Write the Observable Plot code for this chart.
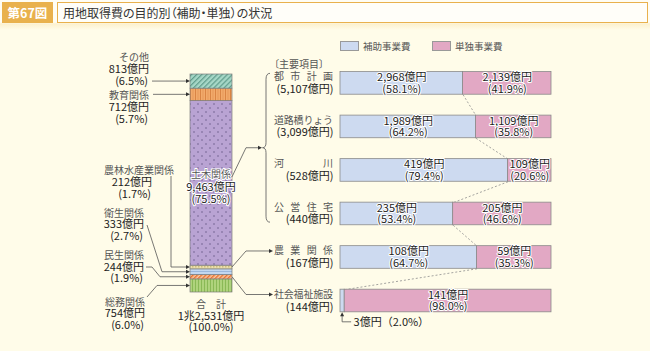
<!DOCTYPE html>
<html lang="ja"><head><meta charset="utf-8">
<script src="https://cdn.jsdelivr.net/npm/d3@7"></script>
<script src="https://cdn.jsdelivr.net/npm/@observablehq/plot@0.6"></script>
<style>
html,body{margin:0;padding:0;background:#fffce9;}
body{font-family:"Noto Sans CJK JP","Noto Sans",sans-serif;}
#wrap{position:relative;width:650px;height:351px;overflow:hidden;background:#fffce9;}
#header{position:absolute;left:0;top:0;width:650px;height:30px;background:linear-gradient(#fffdf4 0px,#fffdf4 22px,#fcf1cf 24px,#fffce9 30px);}
#fig{position:absolute;left:2px;top:2px;width:51px;height:21px;background:#e9b14d;color:#fff;font-size:12.5px;font-weight:bold;line-height:21px;text-align:center;}
#title{position:absolute;left:57px;top:2px;width:584px;height:19px;border:1px solid #e9b14d;background:#fffef9;color:#333;font-size:12px;line-height:19px;padding-left:5px;font-feature-settings:"palt";}
#chart{position:absolute;left:0;top:26px;width:650px;height:325px;}
#chart > svg{position:absolute;left:0;top:0;}
.leg{position:absolute;top:41px;font-size:9.5px;color:#555;line-height:10px;}
.box{position:absolute;top:41px;width:17px;height:8px;border:1px solid #999;}
#note{position:absolute;left:274px;top:57px;font-size:10px;color:#555;line-height:14px;font-feature-settings:"palt";}
</style>
</head>
<body>
<svg width="0" height="0" style="position:absolute">
  <defs>
    <pattern id="pTeal" patternUnits="userSpaceOnUse" width="3.6" height="3.6" patternTransform="rotate(45)">
      <rect width="3.6" height="3.6" fill="#a6d7c7"/><line x1="0.6" y1="0" x2="0.6" y2="3.6" stroke="#5f9c8b" stroke-width="1.2"/>
    </pattern>
    <pattern id="pOrange" patternUnits="userSpaceOnUse" width="5" height="5">
      <rect width="5" height="5" fill="#f2aa6b"/><rect x="0" width="1" height="5" fill="#d98444"/><rect x="2.6" width="0.8" height="5" fill="#e39455"/>
    </pattern>
    <pattern id="pPurple" patternUnits="userSpaceOnUse" width="8" height="8">
      <rect width="8" height="8" fill="#b9a3d3"/><circle cx="2" cy="2" r="0.8" fill="#6e5e8c"/><circle cx="6" cy="6" r="0.8" fill="#6e5e8c"/>
    </pattern>
    <pattern id="pBeige" patternUnits="userSpaceOnUse" width="3" height="3">
      <rect width="3" height="3" fill="#ece1ad"/><rect width="1.5" height="1.5" fill="#cdbb7d"/>
    </pattern>
    <pattern id="pBlue" patternUnits="userSpaceOnUse" width="3" height="3">
      <rect width="3" height="3" fill="#c2d7f0"/><rect y="2" width="3" height="0.8" fill="#92afd6"/>
    </pattern>
    <pattern id="pOrangeHatch" patternUnits="userSpaceOnUse" width="3" height="3" patternTransform="rotate(45)">
      <rect width="3" height="3" fill="#f8c8a0"/><line x1="0.7" y1="0" x2="0.7" y2="3" stroke="#e86f30" stroke-width="1.4"/>
    </pattern>
    <pattern id="pGreen" patternUnits="userSpaceOnUse" width="3" height="3">
      <rect width="3" height="3" fill="#afd37c"/><rect width="0.9" height="3" fill="#86b652"/>
    </pattern>
  </defs>
</svg>
<div id="wrap">
  <div id="header"><div id="fig">第67図</div><div id="title">用地取得費の目的別（補助・単独）の状況</div></div>
  <div id="chart"></div>
  <div class="box" style="left:340px;background:#cddaf0"></div><div class="leg" id="leg0" style="left:363px"></div>
  <div class="box" style="left:432px;background:#e2a8c4"></div><div class="leg" id="leg1" style="left:455px"></div>
  <div id="note">〔主要項目〕</div>
</div>
<script>
// ---------- data ----------
const leftCats = ["総務関係","民生関係","衛生関係","農林水産業関係","土木関係","教育関係","その他"];
const leftValues = [754,244,333,212,9463,712,813];
const leftPct = [6.0,1.9,2.7,1.7,75.5,5.7,6.5];
const totalValue = 12531;
const totalLabels = ["合　計","1兆2,531億円","(100.0%)"];

const rightCats = ["都市計画","道路橋りょう","河川","公営住宅","農業関係","社会福祉施設"];
const rightTotals = [5107,3099,528,440,167,144];
const hojoValues = [2968,1989,419,235,108,3];
const hojoPct = [58.1,64.2,79.4,53.4,64.7,2.0];
const tandokuValues = [2139,1109,109,205,59,141];
const tandokuPct = [41.9,35.8,20.6,46.6,35.3,98.0];
const seriesNames = ["補助事業費","単独事業費"];

// ---------- layout / style ----------
const W = 650, H = 325;
const fmt = d3.format(",");
const font = "Noto Sans CJK JP";
const fillsA = ["url(#pGreen)","url(#pOrangeHatch)","url(#pBlue)","url(#pBeige)","url(#pPurple)","url(#pOrange)","url(#pTeal)"];
const A = {xr:[190,232], yr:[266,48]};
const B = {xr:[340,551], yr:[56.9,274.5], half:0.26};
const blue = "#cddaf0", pink = "#e2a8c4", barStroke = "#8a8a8a", lineCol = "#555";

document.getElementById("leg0").textContent = seriesNames[0];
document.getElementById("leg1").textContent = seriesNames[1];

const cum = d3.cumsum(leftValues);
const stackRows = leftCats.map((c,i)=>({cat:c, value:leftValues[i], pct:leftPct[i], lo:cum[i]-leftValues[i], hi:cum[i], mid:cum[i]-leftValues[i]/2}));
const byCat = Object.fromEntries(stackRows.map(r=>[r.cat,r]));
const yA = d3.scaleLinear().domain([0,totalValue]).range(A.yr);
const xB = d3.scaleLinear().domain([0,100]).range(B.xr);
const yB = d3.scaleLinear().domain([0,rightCats.length-1]).range(B.yr);

// label layout for the stacked bar (pixel positions of text lines and leader bends)
const leftAnno = [
  {cat:"その他", x:149, ys:[31,43,55], lead:[[152,null]]},
  {cat:"教育関係", x:149, ys:[69,81,93], lead:[[153,null]]},
  {cat:"農林水産業関係", x:174, xn:152, ys:[144,156,168], lead:[[171,150],[171,null]]},
  {cat:"衛生関係", x:144, ys:[187,198,210], lead:[[147,199],[162,null]]},
  {cat:"民生関係", x:144, ys:[229,241,252], lead:[[146,241],[152,241],[160,null]]},
  {cat:"総務関係", x:145, ys:[276,287,299], lead:[[147,271],[157,null]]}
];

function txt(g, x, y, s, o={}) {
  const t = g.append("text").attr("x",x).attr("y",y).attr("dy","0.35em")
    .attr("text-anchor",o.anchor||"end").attr("font-size",o.size||11)
    .attr("fill",o.fill||"#222").attr("paint-order","stroke").text(s);
  if (o.halo) t.attr("stroke","#fff").attr("stroke-width",2);
  return t;
}
function arrowHead(g, x, y, dir) {
  const p = dir==="right" ? `M${x},${y}L${x-4},${y-2}L${x-4},${y+2}Z` : `M${x},${y}L${x-2},${y+4}L${x+2},${y+4}Z`;
  g.append("path").attr("d",p).attr("fill","#333");
}

function annotA() {
  const g = d3.create("svg:g").attr("font-family",font);
  const bx = A.xr[0];
  for (const a of leftAnno) {
    const r = byCat[a.cat];
    const t = yA(r.mid);
    const pts = a.lead.map(([x,y])=>[x, y==null?t:y]).concat([[bx-3,t]]);
    g.append("path").attr("d", d3.line()(pts)).attr("fill","none").attr("stroke",lineCol).attr("stroke-width",0.8);
    arrowHead(g, bx, t, "right");
    txt(g, a.x, a.ys[0], r.cat, {size:10, fill:"#555"});
    txt(g, a.xn||a.x, a.ys[1], `${fmt(r.value)}億円`);
    txt(g, (a.xn||a.x)-1, a.ys[2], `(${r.pct.toFixed(1)}%)`);
  }
  // 土木関係 label inside the bar
  const d = byCat["土木関係"], cx = (A.xr[0]+A.xr[1])/2, c = yA(d.mid);
  txt(g, cx, c-8, d.cat, {anchor:"middle", size:10, fill:"#555", halo:true});
  txt(g, cx, c+4, `${fmt(d.value)}億円`, {anchor:"middle", halo:true});
  txt(g, cx, c+16, `(${d.pct.toFixed(1)}%)`, {anchor:"middle", halo:true});
  // total
  const ty = yA(0);
  txt(g, cx, ty+12, totalLabels[0], {anchor:"middle", size:10, fill:"#555"});
  txt(g, cx, ty+24, totalLabels[1], {anchor:"middle"});
  txt(g, cx, ty+35.5, totalLabels[2], {anchor:"middle"});
  return g.node();
}

const plotA = Plot.plot({
  width:W, height:H, margin:0,
  style:{background:"transparent", fontFamily:font, overflow:"visible"},
  x:{type:"band", domain:["合計"], range:A.xr, padding:0, axis:null},
  y:{type:"linear", domain:[0,totalValue], range:A.yr, axis:null},
  marks:[
    ...stackRows.map((r,i)=>Plot.barY([r], {x:()=>"合計", y1:"lo", y2:"hi", fill:fillsA[i], stroke:"#7c7c7c", strokeWidth:0.7})),
    annotA
  ]
});

// ---------- right panel ----------
const rows = rightCats.map((c,i)=>({i, cat:c, total:rightTotals[i], h:hojoValues[i], hp:hojoPct[i], t:tandokuValues[i], tp:tandokuPct[i]}));
const hh = B.half;

function annotB() {
  const g = d3.create("svg:g").attr("font-family",font);
  // brace for 土木関係 items (rows 0-3)
  const top = yB(-0.22), bot = yB(3.2), mid = (top+bot)/2, sx = 266;
  g.append("path").attr("d",
    `M270,${top}Q${sx},${top} ${sx},${top+6}L${sx},${mid-5}Q${sx},${mid} ${sx-3.5},${mid}Q${sx},${mid} ${sx},${mid+5}L${sx},${bot-6}Q${sx},${bot} 270,${bot}`)
    .attr("fill","none").attr("stroke","#666").attr("stroke-width",0.9);
  const bx = A.xr[1];
  const links = [
    {from:"土木関係", dy:-6, to:mid, end:262},
    {from:"農林水産業関係", dy:0, to:yB(4)-6, end:273},
    {from:"民生関係", dy:0, to:yB(5)-6, end:273}
  ];
  for (const l of links) {
    const y0 = yA(byCat[l.from].mid) + l.dy;
    g.append("path").attr("d", d3.line()([[bx,y0],[bx+14,l.to],[l.end-3,l.to]]))
      .attr("fill","none").attr("stroke",lineCol).attr("stroke-width",0.8);
    arrowHead(g, l.end, l.to, "right");
  }
  // category names, justified to a common width
  for (const r of rows) {
    g.append("text").attr("x",xB(0)-7).attr("y",yB(r.i)-6).attr("dy","0.35em")
      .attr("text-anchor","end").attr("font-size",10).attr("fill","#555")
      .attr("textLength",59).attr("lengthAdjust","spacing").text(r.cat);
  }
  // small-segment callout for 社会福祉施設 補助
  const r = rows[5], x = xB(r.hp/2), y = yB(r.i+hh);
  g.append("path").attr("d", d3.line()([[x,y+3],[x,y+10],[x+9,y+10]])).attr("fill","none").attr("stroke",lineCol).attr("stroke-width",0.8);
  arrowHead(g, x, y+0.5, "up");
  return g.node();
}

const plotB = Plot.plot({
  width:W, height:H, margin:0,
  style:{background:"transparent", fontFamily:font, overflow:"visible", color:"#222"},
  x:{type:"linear", domain:[0,100], range:B.xr, axis:null},
  y:{type:"linear", domain:[0,rightCats.length-1], range:B.yr, axis:null},
  marks:[
    Plot.link(d3.pairs(rows), {x1:([a])=>a.hp, y1:([a])=>a.i+hh, x2:([,b])=>b.hp, y2:([,b])=>b.i-hh, stroke:"#8d8d8d", strokeWidth:0.8, strokeDasharray:"2,2"}),
    Plot.rect(rows, {x1:()=>0, x2:"hp", y1:d=>d.i-hh, y2:d=>d.i+hh, fill:blue, stroke:barStroke, strokeWidth:0.8}),
    Plot.rect(rows, {x1:"hp", x2:()=>100, y1:d=>d.i-hh, y2:d=>d.i+hh, fill:pink, stroke:barStroke, strokeWidth:0.8}),
    Plot.text(rows.filter(d=>d.hp>10), {x:d=>d.hp/2, y:"i", text:d=>`${fmt(d.h)}億円\n(${d.hp.toFixed(1)}%)`, fontSize:11, lineHeight:1.02, stroke:"white", strokeWidth:2, paintOrder:"stroke", fill:"#222"}),
    Plot.text(rows, {x:d=>(d.hp+100)/2, y:"i", text:d=>`${fmt(d.t)}億円\n(${d.tp.toFixed(1)}%)`, fontSize:11, lineHeight:1.02, stroke:"white", strokeWidth:2, paintOrder:"stroke", fill:"#222"}),
    Plot.text(rows, {x:()=>0, y:"i", dx:-7, dy:6, text:d=>`(${fmt(d.total)}億円)`, textAnchor:"end", fontSize:11, fill:"#222"}),
    Plot.text(rows.filter(d=>d.hp<10), {x:d=>d.hp/2, y:d=>d.i+hh, dx:11, dy:10, text:d=>`${d.h}億円（${d.hp.toFixed(1)}%）`, textAnchor:"start", fontSize:11, fill:"#222"}),
    annotB
  ]
});

const chart = document.getElementById("chart");
chart.appendChild(plotA);
chart.appendChild(plotB);
</script>
</body></html>
